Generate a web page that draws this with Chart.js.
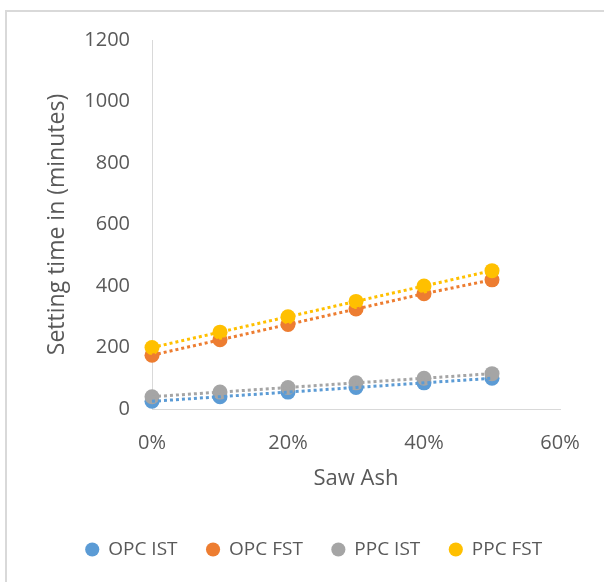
<!DOCTYPE html>
<html>
<head>
<meta charset="utf-8">
<script src="https://cdn.jsdelivr.net/npm/chart.js@4.4.1/dist/chart.umd.min.js"></script>
<style>
  html, body { margin: 0; padding: 0; background: #ffffff; }
  #wrap { width: 604px; height: 582px; }
  canvas { display: block; }
</style>
</head>
<body>
<div id="wrap"><canvas id="chart" width="604" height="582"></canvas></div>
<script>
// Saw ash replacement level (fraction of binder)
const sawAsh = [0, 0.1, 0.2, 0.3, 0.4, 0.5];

// Setting times in minutes
const opcIst = [25, 40, 55, 70, 85, 100];
const opcFst = [175, 225, 275, 325, 375, 420];
const ppcIst = [40, 55, 70, 85, 100, 115];
const ppcFst = [200, 250, 300, 350, 400, 450];

const seriesNames = ['OPC IST', 'OPC FST', 'PPC IST', 'PPC FST'];
const seriesValues = [opcIst, opcFst, ppcIst, ppcFst];
const seriesColors = ['#5B9BD5', '#ED7D31', '#A5A5A5', '#FFC000'];

const xTickLabels = ['0%', '20%', '40%', '60%'];
const yTickLabels = ['0', '200', '400', '600', '800', '1000', '1200'];

const textColor = '#595959';
const axisColor = '#D9D9D9';
const fontFamily = '"Open Sans", "Liberation Sans", sans-serif';

const toPoints = (vals) => sawAsh.map((x, i) => ({ x: x, y: vals[i] }));

// Marker datasets (first series drawn lowest)
const markerSets = seriesNames.map((name, i) => ({
  label: name,
  data: toPoints(seriesValues[i]),
  backgroundColor: seriesColors[i],
  borderColor: seriesColors[i],
  pointRadius: 7.5,
  pointBorderWidth: 0,
  pointStyle: 'circle',
  showLine: false,
  clip: false,
  order: seriesNames.length - i
}));

// Dotted trend lines through each series, drawn above the markers
const trendSets = seriesNames.map((name, i) => ({
  label: name + ' trend',
  data: toPoints(seriesValues[i]),
  borderColor: seriesColors[i],
  backgroundColor: seriesColors[i],
  borderWidth: 3,
  borderDash: [3, 3],
  pointRadius: 0,
  showLine: true,
  tension: 0,
  fill: false,
  clip: false,
  order: 0
}));

// Outer frame of the chart object
const framePlugin = {
  id: 'frame',
  beforeDraw(chart) {
    const ctx = chart.ctx;
    ctx.save();
    ctx.fillStyle = '#ffffff';
    ctx.fillRect(0, 0, chart.width, chart.height);
    ctx.strokeStyle = axisColor;
    ctx.lineWidth = 2;
    ctx.beginPath();
    ctx.moveTo(6, chart.height);
    ctx.lineTo(6, 11);
    ctx.lineTo(chart.width, 11);
    ctx.stroke();
    ctx.restore();
  }
};

// Nudge the legend row so it sits under the plot's centre
const legendShift = {
  id: 'legendShift',
  afterLayout(chart) {
    if (chart.legend) {
      chart.legend.left += 14;
      chart.legend.right += 14;
    }
  }
};

new Chart(document.getElementById('chart'), {
  type: 'scatter',
  data: { datasets: markerSets.concat(trendSets) },
  plugins: [framePlugin, legendShift],
  options: {
    responsive: false,
    devicePixelRatio: 1,
    animation: false,
    layout: { padding: { top: 40, left: 40, right: 44, bottom: 13 } },
    plugins: {
      tooltip: { enabled: false },
      legend: {
        position: 'bottom',
        labels: {
          usePointStyle: true,
          boxWidth: 13,
          boxHeight: 10,
          padding: 29,
          color: textColor,
          font: { family: fontFamily, size: 19 },
          filter: (item) => item.datasetIndex < seriesNames.length,
          sort: (a, b) => a.datasetIndex - b.datasetIndex
        }
      }
    },
    scales: {
      x: {
        type: 'linear',
        min: 0,
        max: 0.6,
        grid: { display: false, drawTicks: false },
        border: { display: true, color: axisColor, width: 1 },
        ticks: {
          stepSize: 0.2,
          padding: 22,
          color: textColor,
          font: { family: fontFamily, size: 20 },
          callback: (v, i) => xTickLabels[i]
        },
        title: {
          display: true,
          text: 'Saw Ash',
          color: textColor,
          font: { family: fontFamily, size: 22 },
          padding: { top: 0, bottom: 19 }
        },
        afterFit: (s) => { s.height = 102; }
      },
      y: {
        type: 'linear',
        min: 0,
        max: 1200,
        grid: { display: false, drawTicks: false },
        border: { display: true, color: axisColor, width: 1 },
        ticks: {
          stepSize: 200,
          padding: 22,
          color: textColor,
          font: { family: fontFamily, size: 20 },
          callback: (v, i) => yTickLabels[i]
        },
        title: {
          display: true,
          text: 'Setting time in (minutes)',
          color: textColor,
          font: { family: fontFamily, size: 23 },
          padding: { top: 4, bottom: 0 }
        },
        afterFit: (s) => { s.width = 112; }
      }
    }
  }
});
</script>
</body>
</html>
